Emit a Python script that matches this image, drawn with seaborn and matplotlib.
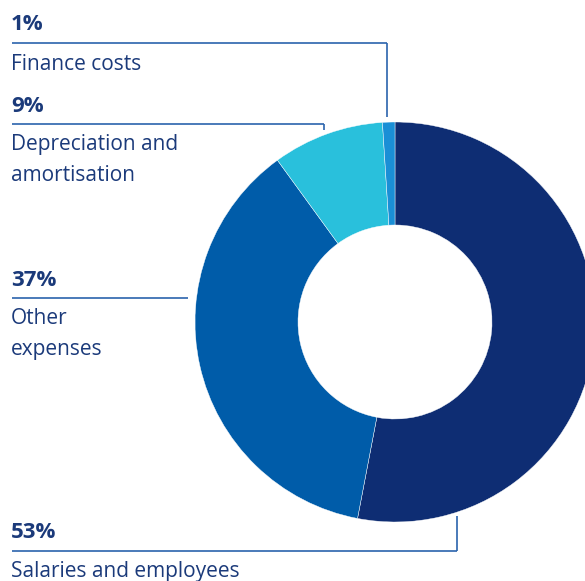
import matplotlib
matplotlib.use("Agg")
import matplotlib.pyplot as plt
import seaborn as sns

# data
categories = ["Salaries and employees", "Other\nexpenses", "Depreciation and\namortisation", "Finance costs"]
shares = [53, 37, 9, 1]
colors = ["#0e2d73", "#005ca9", "#29c0dc", "#1a8fd6"]

sns.set_theme(style="white")
plt.rcParams['font.family'] = ['Open Sans', 'DejaVu Sans']

W, H = 585, 581
fig = plt.figure(figsize=(W / 100, H / 100), dpi=100)
ax = fig.add_axes([0, 0, 1, 1])

def py(y):
    # pixel row -> data y
    return H - y

cx, cy, R, r_in = 395, 322, 200, 97
ax.pie(shares, colors=colors, startangle=90, counterclock=False,
       center=(cx, py(cy)), radius=R, frame=True,
       wedgeprops=dict(width=R - r_in, edgecolor="white", linewidth=0.3))

ax.set_xlim(0, W)
ax.set_ylim(0, H)
ax.set_aspect("equal")
ax.axis("off")

text_col = "#1b3a7a"
line_col = "#2b63ad"

# label blocks: (pct, name, pct_y, line_y, line_x_end, vertical_end_y, name_y)
blocks = [
    (shares[3], categories[3], 25, 43, 387, 117, 65),
    (shares[2], categories[2], 106, 124, 324, 130, 160),
    (shares[1], categories[1], 281, 298, 188, None, 334),
    (shares[0], categories[0], 533, 551, 457, 516, 572),
]

for pct, name, y_pct, y_line, x_end, y_vert, y_name in blocks:
    ax.text(11, py(y_pct), f"{pct}%", fontsize=16, fontweight="bold",
            color=text_col, va="center", ha="left")
    ax.plot([12, x_end], [py(y_line), py(y_line)], color=line_col, lw=1.2,
            solid_capstyle="butt")
    if y_vert is not None:
        ax.plot([x_end, x_end], [py(y_line), py(y_vert)], color=line_col, lw=1.2,
                solid_capstyle="butt")
    ax.text(11, py(y_name), name, fontsize=15, color=text_col, va="center",
            ha="left", linespacing=1.6)

fig.savefig("out.png", dpi=100)
